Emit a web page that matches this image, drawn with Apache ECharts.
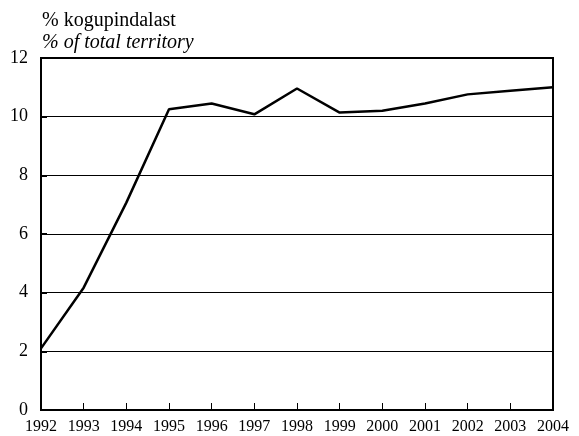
<!DOCTYPE html>
<html><head><meta charset="utf-8">
<script src="https://cdn.jsdelivr.net/npm/echarts@6/dist/echarts.min.js"></script>
<style>html,body{margin:0;padding:0;background:#fff}#c{width:579px;height:436px}</style>
</head><body><div id="c"></div>
<script>
var years = ['1992','1993','1994','1995','1996','1997','1998','1999','2000','2001','2002','2003','2004'];
var values = [2.1, 4.17, 7.07, 10.25, 10.45, 10.08, 10.96, 10.14, 10.2, 10.45, 10.76, 10.88, 11.0];
var yTicks = [0, 2, 4, 6, 8, 10, 12];
var titleEt = '% kogupindalast';
var titleEn = '% of total territory';

var chart = echarts.init(document.getElementById('c'), null, {renderer: 'canvas'});
var font = 'Liberation Serif';
chart.setOption({
  animation: false,
  backgroundColor: '#fff',
  graphic: [
    {type: 'text', left: 42, top: 11, style: {text: titleEt, fontFamily: font, fontSize: 20, fill: '#000'}},
    {type: 'text', left: 42, top: 33, style: {text: titleEn, fontFamily: font, fontSize: 20, fontStyle: 'italic', fill: '#000'}}
  ],
  grid: {left: 41, right: 26, top: 58, bottom: 26, show: true, borderColor: '#000', borderWidth: 2, backgroundColor: 'transparent'},
  xAxis: {
    type: 'category', data: years, boundaryGap: false,
    axisLine: {lineStyle: {color: '#000', width: 2}},
    axisTick: {inside: true, length: 7, lineStyle: {color: '#000', width: 1}},
    axisLabel: {color: '#000', fontFamily: font, fontSize: 16, margin: 9, interval: 0},
    splitLine: {show: false}
  },
  yAxis: {
    type: 'value', min: 0, max: 12, interval: 2,
    axisLine: {show: true, lineStyle: {color: '#000', width: 2}},
    axisTick: {show: true, inside: true, length: 6, lineStyle: {color: '#000', width: 2}},
    axisLabel: {color: '#000', fontFamily: font, fontSize: 18, margin: 13,
      formatter: function(v){ return yTicks.indexOf(v) >= 0 ? String(v) : ''; }},
    splitLine: {show: true, lineStyle: {color: '#000', width: 1}}
  },
  series: [{
    type: 'line', data: values, showSymbol: false, symbol: 'none',
    lineStyle: {color: '#000', width: 2.5}
  }]
});
</script></body></html>
